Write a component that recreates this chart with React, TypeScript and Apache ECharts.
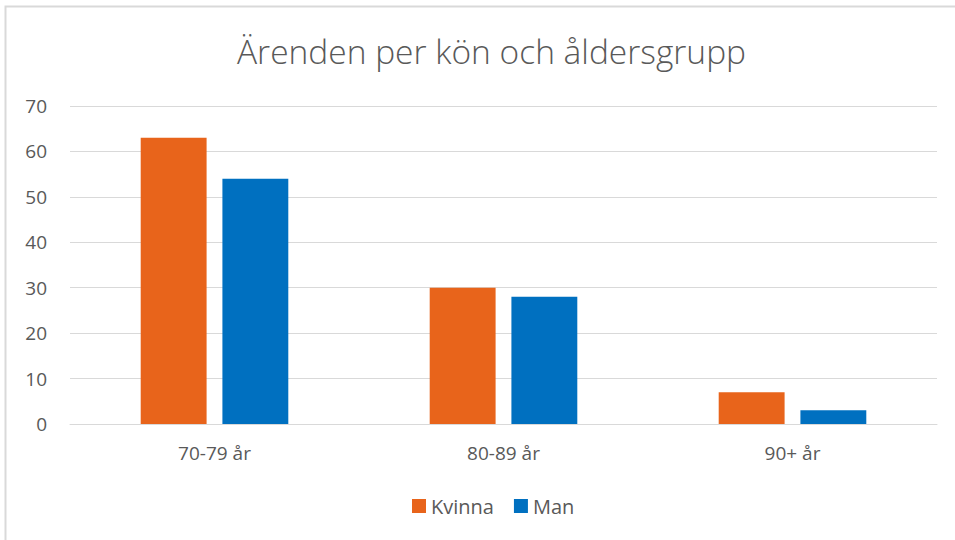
import React, { useEffect, useRef } from "react";
import * as echarts from "echarts";

const categories = ["70-79 år", "80-89 år", "90+ år"];
const kvinna = [63, 30, 7];
const man = [54, 28, 3];
const seriesNames = ["Kvinna", "Man"];

export default function App() {
  const ref = useRef<HTMLDivElement>(null);
  useEffect(() => {
    if (!ref.current) return;
    const chart = echarts.init(ref.current, null, { renderer: "svg" });
    const font = "'Open Sans', 'Noto Sans', sans-serif";
    chart.setOption({
      animation: false,
      backgroundColor: "#ffffff",
      title: {
        text: "Ärenden per kön och åldersgrupp",
        left: 232,
        top: 29,
        textStyle: { fontFamily: font, fontSize: 33.5, fontWeight: 300, color: "#595959" },
      },
      graphic: [
        {
          type: "rect",
          shape: { x: 5.5, y: 6.5, width: 1000, height: 600 },
          style: { fill: "none", stroke: "#d9d9d9", lineWidth: 2 },
          silent: true,
        },
      ],
      legend: {
        data: seriesNames,
        bottom: 19,
        left: 407,
        itemWidth: 14,
        itemHeight: 14,
        itemGap: 20,
        icon: "rect",
        textStyle: { fontFamily: font, fontSize: 20, color: "#595959" },
      },
      grid: { left: 70, right: 18, top: 106, bottom: 116, containLabel: false },
      xAxis: {
        type: "category",
        data: categories,
        axisTick: { show: false },
        axisLine: { lineStyle: { color: "#d9d9d9", width: 1 } },
        axisLabel: { fontFamily: font, fontSize: 19, color: "#595959", margin: 19 },
      },
      yAxis: {
        type: "value",
        min: 0,
        max: 70,
        interval: 10,
        axisLine: { show: false },
        axisTick: { show: false },
        splitLine: { lineStyle: { color: "#d9d9d9", width: 1 } },
        axisLabel: { fontFamily: font, fontSize: 19, color: "#595959", margin: 23 },
      },
      series: [
        {
          name: seriesNames[0],
          type: "bar",
          data: kvinna,
          barWidth: "22.8%",
          barGap: "24%",
          itemStyle: { color: "#E8641B" },
        },
        {
          name: seriesNames[1],
          type: "bar",
          data: man,
          barWidth: "22.8%",
          itemStyle: { color: "#0070C0" },
        },
      ],
    });
    return () => chart.dispose();
  }, []);
  return (
    <div
      ref={ref}
      style={{ position: "absolute", left: 0, top: 0, width: 955, height: 540 }}
    />
  );
}
